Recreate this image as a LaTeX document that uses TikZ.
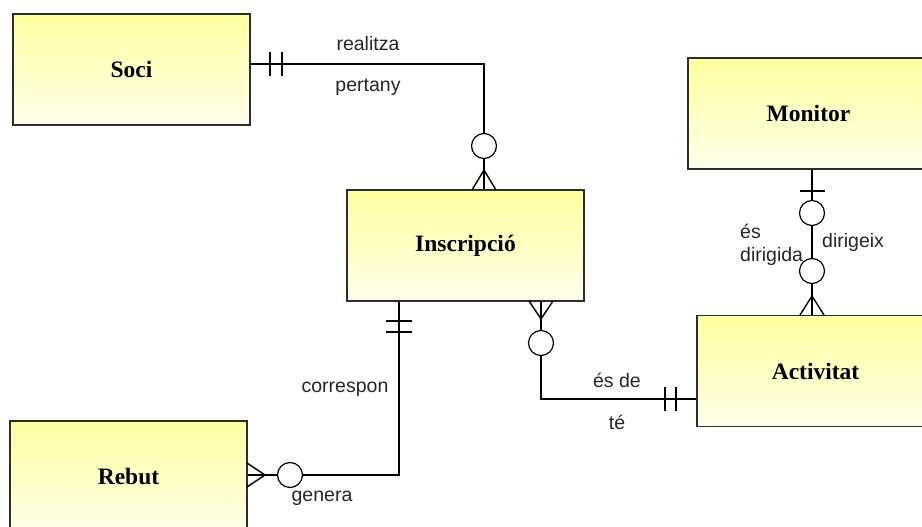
\documentclass[tikz,border=0pt]{standalone}
\usepackage{fontspec}
\setmainfont{Liberation Serif}
\setsansfont{Liberation Sans}
\usetikzlibrary{calc}

\definecolor{boxtop}{RGB}{255,255,160}
\definecolor{boxbot}{RGB}{255,255,234}
\definecolor{edgecol}{RGB}{45,45,45}

\tikzset{
  entity/.style={draw=edgecol, line width=1.5pt, top color=boxtop, bottom color=boxbot,
    minimum width=237pt, minimum height=111pt, inner sep=0pt,
    font=\fontsize{23.5}{27}\selectfont\bfseries},
  rel/.style={line width=1.4pt, draw=black},
  lbl/.style={font=\sffamily\fontsize{19.5}{23}\selectfont, inner sep=0pt, text=black!85},
  opt/.style={circle, draw=black, line width=1.2pt, fill=white, minimum size=25pt, inner sep=0pt},
}

\begin{document}
\begin{tikzpicture}[x=1pt, y=-1pt]
  \clip (0,0) rectangle (922,527);
  \fill[white] (0,0) rectangle (922,527);

  % entities
  \node[entity] (soci) at (131.5,69.5) {Soci};
  \node[entity] (insc) at (465.5,245.5) {Inscripció};
  \node[entity, minimum width=241pt] (mon)  at (808.5,113.5) {Monitor};
  \node[entity] (act)  at (815.5,371) {Activitat};
  \node[entity] (reb)  at (128.5,476.5) {Rebut};

  % Soci -- Inscripcio
  \draw[rel] ([yshift=5.5pt]soci.east) -| ([xshift=18.5pt]insc.north);
  \draw[rel] (270,52) -- (270,76) (282,52) -- (282,76);
  \draw[rel] (472,190) -- (484,170) -- (496,190);
  \node[opt] (c1) at (484,146) {};
  \node[lbl] (l1) at (368,44) {realitza};
  \node[lbl] (l2) at (368,87) {pertany};

  % Monitor -- Activitat
  \draw[rel] ([xshift=3.5pt]mon.south) -- ([xshift=-3.5pt]act.north);
  \draw[rel] (800,191) -- (825,191);
  \draw[rel] (800,315) -- (812,296) -- (824,315);
  \node[opt] (c2) at (812,213) {};
  \node[opt] (c3) at (812,271) {};
  \node[lbl, anchor=west] (l3) at (740,231) {és};
  \node[lbl, anchor=west] (l4) at (740,256) {dirigida};
  \node[lbl, anchor=west] (l5) at (822,242) {dirigeix};

  % Inscripcio -- Rebut
  \draw[rel] ([xshift=-66.5pt]insc.south) |- ([yshift=1.5pt]reb.east);
  \draw[rel] (386,321) -- (412,321) (386,332) -- (412,332);
  \draw[rel] (247,463) -- (265,475) -- (247,487);
  \node[opt] (c4) at (290,475) {};
  \node[lbl] (l6) at (345,389) {correspon};
  \node[lbl] (l7) at (322,498) {genera};

  % Inscripcio -- Activitat
  \draw[rel] ([xshift=75.5pt]insc.south) |- ([yshift=-28pt]act.west);
  \draw[rel] (529,301) -- (541,319) -- (553,301);
  \node[opt] (c5) at (541,343) {};
  \draw[rel] (665,387) -- (665,411) (676,387) -- (676,411);
  \node[lbl] (l8) at (617,380) {és de};
  \node[lbl] (l9) at (617,422) {té};
\end{tikzpicture}
\end{document}
